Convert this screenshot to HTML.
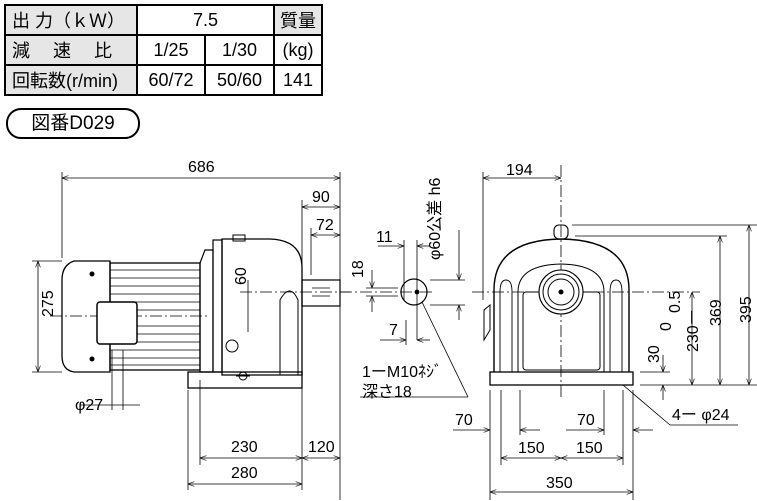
<!DOCTYPE html>
<html><head><meta charset="utf-8"><style>
body{margin:0;background:#fff;width:757px;height:501px;overflow:hidden;font-family:"Liberation Sans","Noto Sans CJK JP",sans-serif}
table{position:absolute;left:4px;top:4px;border-collapse:collapse;font-size:18px}
td{border:2px solid #000;height:28px;padding:0;text-align:center}
.h{background:#e6e6e6;text-align:left;padding-left:6px}
.b{position:absolute;left:6px;top:108px;width:130px;height:27px;border:2px solid #000;border-radius:15px;font-size:19px;text-align:center;line-height:27px}
svg{position:absolute;left:0;top:0}
text{font-family:"Liberation Sans","Noto Sans CJK JP",sans-serif;font-size:16px}
</style></head><body>
<table>
<tr><td class="h" style="width:124px">出 力（ｋＷ）</td><td colspan="2">7.5</td><td class="h" style="width:46px;text-align:center;padding-left:0">質量</td></tr>
<tr><td class="h">減　 速　 比</td><td style="width:66px">1/25</td><td style="width:67px">1/30</td><td>(kg)</td></tr>
<tr><td class="h">回転数(r/min)</td><td>60/72</td><td>50/60</td><td>141</td></tr>
</table>
<div class="b">図番D029</div>
<svg width="757" height="501" viewBox="0 0 757 501" fill="none" stroke="#000" stroke-width="1">
<defs><marker id="a" markerWidth="8" markerHeight="6" refX="8" refY="3" orient="auto-start-reverse"><path d="M0,0L8,3L0,6" stroke="#000" stroke-width="0.8" fill="none"/></marker></defs>
<g stroke-width="0.8">
<line x1="62" y1="178" x2="340" y2="178" marker-start="url(#a)" marker-end="url(#a)"/>
<line x1="62" y1="172" x2="62" y2="258"/><line x1="340" y1="172" x2="340" y2="500"/>
<line x1="302" y1="200" x2="302" y2="270"/><line x1="311" y1="228" x2="311" y2="275"/>
<line x1="302" y1="207" x2="340" y2="207" marker-start="url(#a)" marker-end="url(#a)"/>
<line x1="311" y1="235" x2="340" y2="235" marker-start="url(#a)" marker-end="url(#a)"/>
<line x1="32" y1="261" x2="62" y2="261"/><line x1="32" y1="372" x2="62" y2="372"/>
<line x1="38" y1="261" x2="38" y2="372" marker-start="url(#a)" marker-end="url(#a)"/>
<line x1="248" y1="280" x2="248" y2="332"/>
<line x1="50" y1="316" x2="210" y2="316" stroke-dasharray="12,3,2,3"/>
<line x1="240" y1="292" x2="350" y2="292" stroke-dasharray="12,3,2,3"/>
<line x1="112" y1="350" x2="112" y2="410"/><line x1="123" y1="350" x2="123" y2="410"/>
<line x1="80" y1="405" x2="140" y2="405"/>
<line x1="188" y1="390" x2="188" y2="490"/><line x1="200" y1="380" x2="200" y2="465"/><line x1="302" y1="380" x2="302" y2="490"/>
<line x1="200" y1="458" x2="302" y2="458" marker-start="url(#a)" marker-end="url(#a)"/>
<line x1="302" y1="458" x2="340" y2="458" marker-start="url(#a)" marker-end="url(#a)"/>
<line x1="188" y1="484" x2="302" y2="484" marker-start="url(#a)" marker-end="url(#a)"/>
</g>
<path d="M110,261H74Q62,265 62,280V356Q62,370 74,372H110Z" stroke-width="1.3"/>
<rect x="110" y="263" width="90" height="107" stroke-width="1.3"/>
<g stroke-width="0.7"><line x1="110" y1="270" x2="200" y2="270"/><line x1="110" y1="278" x2="200" y2="278"/><line x1="110" y1="286" x2="200" y2="286"/><line x1="110" y1="294" x2="200" y2="294"/><line x1="110" y1="302" x2="200" y2="302"/><line x1="110" y1="310" x2="200" y2="310"/><line x1="110" y1="326" x2="200" y2="326"/><line x1="110" y1="334" x2="200" y2="334"/><line x1="110" y1="342" x2="200" y2="342"/><line x1="110" y1="350" x2="200" y2="350"/><line x1="110" y1="358" x2="200" y2="358"/><line x1="110" y1="365" x2="200" y2="365"/></g>
<rect x="97" y="302" width="40" height="42" rx="3" fill="#fff" stroke-width="1.5"/>
<circle cx="92" cy="274" r="2" fill="#000"/><circle cx="92" cy="359" r="2" fill="#000"/>
<path d="M200,263L205,250H213V372H200Z" stroke-width="1.2"/>
<rect x="213" y="240" width="9" height="132" stroke-width="1.2"/>
<path d="M222,239H270Q302,240 302,268V375H222Z" stroke-width="1.3"/>
<path d="M280,375V300Q290,282 298,300V375" stroke-width="1"/>
<rect x="188" y="372" width="114" height="16" stroke-width="1.3"/>
<rect x="302" y="280" width="38" height="26" stroke-width="1.2"/>
<path d="M312,288H330M312,296H330" stroke-width="0.8"/>
<circle cx="232" cy="346" r="6"/><circle cx="243" cy="376" r="4"/><line x1="236" y1="376" x2="250" y2="376"/>
<rect x="233" y="235" width="12" height="6"/>
<g stroke-width="0.8">
<circle cx="414" cy="292" r="13" stroke-width="1.2"/><circle cx="417" cy="292" r="2" fill="#000"/>
<line x1="340" y1="292" x2="435" y2="292" stroke-dasharray="12,3,2,3"/>
<line x1="417" y1="240" x2="417" y2="340"/><line x1="404" y1="240" x2="404" y2="300"/><line x1="406" y1="320" x2="406" y2="345"/>
<line x1="378" y1="246" x2="404" y2="246" marker-end="url(#a)"/><line x1="430" y1="246" x2="417" y2="246" marker-end="url(#a)"/>
<line x1="380" y1="340" x2="406" y2="340" marker-end="url(#a)"/><line x1="430" y1="340" x2="417" y2="340" marker-end="url(#a)"/>
<line x1="366" y1="288" x2="398" y2="288"/><line x1="366" y1="296" x2="398" y2="296"/>
<line x1="372" y1="270" x2="372" y2="288" marker-end="url(#a)"/><line x1="372" y1="312" x2="372" y2="296" marker-end="url(#a)"/>
<line x1="430" y1="280" x2="465" y2="280"/><line x1="430" y1="305" x2="465" y2="305"/>
<line x1="459" y1="230" x2="459" y2="280" marker-end="url(#a)"/><line x1="459" y1="320" x2="459" y2="305" marker-end="url(#a)"/>
<line x1="422" y1="302" x2="468" y2="397"/><line x1="360" y1="397" x2="468" y2="397"/>
</g>
<g stroke-width="0.8">
<line x1="483" y1="172" x2="483" y2="300"/><line x1="561" y1="165" x2="561" y2="400" stroke-dasharray="12,3,2,3"/>
<line x1="483" y1="178" x2="561" y2="178" marker-start="url(#a)" marker-end="url(#a)"/>
<line x1="472" y1="292" x2="700" y2="292" stroke-dasharray="12,3,2,3"/>
<line x1="572" y1="225" x2="757" y2="225"/><line x1="575" y1="236" x2="727" y2="236"/><line x1="640" y1="385" x2="757" y2="385"/><line x1="640" y1="372" x2="670" y2="372"/>
<line x1="749" y1="225" x2="749" y2="385" marker-start="url(#a)" marker-end="url(#a)"/>
<line x1="720" y1="236" x2="720" y2="385" marker-start="url(#a)" marker-end="url(#a)"/>
<line x1="692" y1="292" x2="692" y2="385" marker-start="url(#a)" marker-end="url(#a)"/>
<line x1="663" y1="355" x2="663" y2="372" marker-end="url(#a)"/><line x1="663" y1="400" x2="663" y2="385" marker-end="url(#a)"/>
<line x1="490" y1="390" x2="490" y2="500"/><line x1="501" y1="390" x2="501" y2="465"/><line x1="520" y1="390" x2="520" y2="435"/><line x1="604" y1="390" x2="604" y2="435"/><line x1="623" y1="390" x2="623" y2="465"/><line x1="633" y1="390" x2="633" y2="500"/>
<line x1="453" y1="430" x2="490" y2="430" marker-end="url(#a)"/><line x1="540" y1="430" x2="520" y2="430" marker-end="url(#a)"/>
<line x1="566" y1="430" x2="604" y2="430" marker-end="url(#a)"/><line x1="653" y1="430" x2="633" y2="430" marker-end="url(#a)"/>
<line x1="501" y1="458" x2="561" y2="458" marker-start="url(#a)" marker-end="url(#a)"/>
<line x1="561" y1="458" x2="623" y2="458" marker-start="url(#a)" marker-end="url(#a)"/>
<line x1="490" y1="492" x2="633" y2="492" marker-start="url(#a)" marker-end="url(#a)"/>
<line x1="623" y1="385" x2="670" y2="425"/><line x1="670" y1="425" x2="738" y2="425"/>
</g>
<path d="M494,372V290Q494,240 561,239Q629,240 629,290V372" stroke-width="1.4"/>
<path d="M518,372V292Q518,265 561,264Q604,265 604,292V372" stroke-width="1"/>
<path d="M500,372V292Q500,280 506,280Q512,280 512,292V372M610,372V292Q610,280 616,280Q622,280 622,292V372" stroke-width="0.9"/>
<rect x="523" y="292" width="77" height="78" rx="3" stroke-width="1"/>
<circle cx="561" cy="292" r="22" fill="#fff" stroke-width="1.1"/><circle cx="561" cy="292" r="18"/><circle cx="561" cy="292" r="13"/><circle cx="561" cy="292" r="2" fill="#000"/>
<rect x="554" y="225" width="14" height="14" rx="5" stroke-width="1.1"/>
<path d="M484,310L490,305V330L484,340Z" stroke-width="1"/>
<rect x="490" y="372" width="143" height="13" stroke-width="1.3"/>
<g fill="#000" stroke="none">
<text x="188" y="172" font-size="18">686</text>
<text x="312" y="202">90</text><text x="316" y="230">72</text>
<text x="36" y="332" transform="rotate(-90 37 316)" font-size="18">275</text>
<text x="231" y="286" transform="rotate(-90 238 278)">60</text>
<text x="75" y="410">φ27</text>
<text x="231" y="452">230</text><text x="308" y="452">120</text><text x="231" y="478">280</text>
<text x="376" y="242">11</text><text x="389" y="335">7</text>
<text x="350" y="275" transform="rotate(-90 358 270)">18</text>
<text x="420" y="220" transform="rotate(-90 450 230)">φ60公差 h6</text>
<text x="362" y="377">1ーM10ﾈｼﾞ</text><text x="362" y="397">深さ18</text>
<text x="506" y="175">194</text>
<text x="455" y="425">70</text><text x="577" y="425">70</text>
<text x="518" y="453">150</text><text x="576" y="453">150</text>
<text x="546" y="488" font-size="18">350</text>
<text x="672" y="420">4ー φ24</text>
<text x="734" y="318" transform="rotate(-90 745 312)" font-size="18">395</text>
<text x="706" y="325" transform="rotate(-90 714 318)">369</text>
<text x="676" y="350" transform="rotate(-90 688 340)">230ー</text>
<text x="672" y="305" transform="rotate(-90 680 305)">0.5</text>
<text x="660" y="330" transform="rotate(-90 666 325)">0</text>
<text x="646" y="360" transform="rotate(-90 654 355)">30</text>
</g>
</svg>
</body></html>
